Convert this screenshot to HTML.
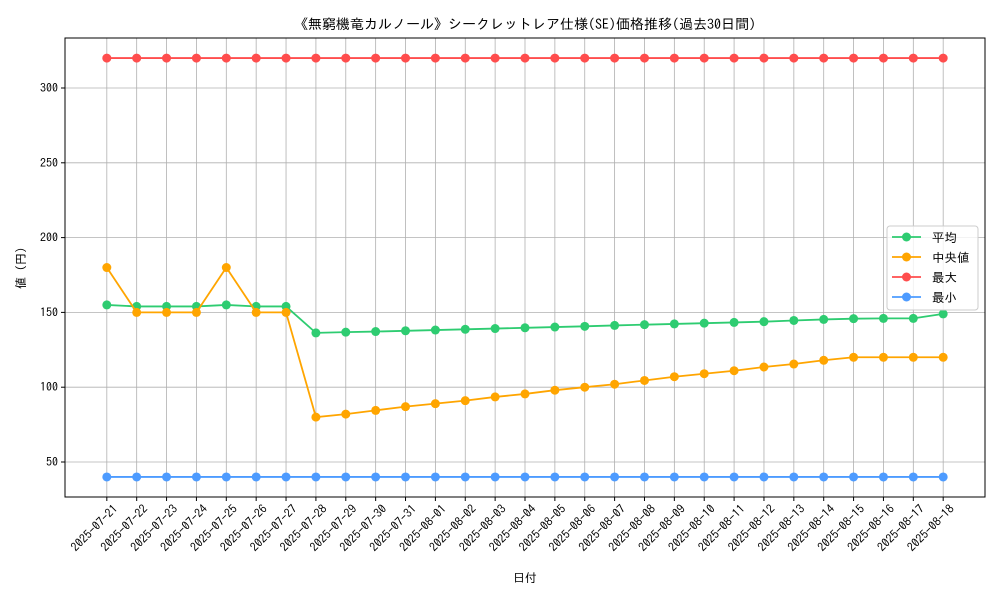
<!DOCTYPE html>
<html><head><meta charset="utf-8"><style>
body{margin:0;background:#fff;}
svg text{font-family:"IPAGothic","Noto Sans CJK JP",monospace;fill:#000;}
</style></head><body>
<svg id="chart" width="1000" height="600" xmlns="http://www.w3.org/2000/svg">
<rect width="1000" height="600" fill="#fff"/>
<text x="525" y="29" font-size="14" text-anchor="middle">《無窮機竜カルノール》シークレットレア仕様(SE)価格推移(過去30日間)</text>
<g id="grid"></g>
<g id="series"></g>
<g id="axes"></g>
<text x="525" y="582" font-size="12" text-anchor="middle">日付</text>
<text transform="translate(25,268) rotate(-90)" font-size="12" text-anchor="middle">値 (円)</text>
<g>
<rect x="887" y="226" width="91" height="84" rx="3" fill="#fff" fill-opacity="0.8" stroke="#ccc"/>
<g id="legend-items"></g>
</g>
</svg>
<script>
const dates=["2025-07-21","2025-07-22","2025-07-23","2025-07-24","2025-07-25","2025-07-26","2025-07-27","2025-07-28","2025-07-29","2025-07-30","2025-07-31","2025-08-01","2025-08-02","2025-08-03","2025-08-04","2025-08-05","2025-08-06","2025-08-07","2025-08-08","2025-08-09","2025-08-10","2025-08-11","2025-08-12","2025-08-13","2025-08-14","2025-08-15","2025-08-16","2025-08-17","2025-08-18"];
const avgValues=[155,154,154,154,155,154,154,136.3,136.8,137.2,137.7,138.2,138.7,139.2,139.7,140.2,140.7,141.3,141.8,142.3,142.8,143.3,143.8,144.6,145.3,145.8,146,146,149];
const medianValues=[180,150,150,150,180,150,150,80,82,84.5,87,89,91,93.5,95.5,98,100,102,104.5,107,109,111,113.5,115.5,118,120,120,120,120];
const maxValues=[320,320,320,320,320,320,320,320,320,320,320,320,320,320,320,320,320,320,320,320,320,320,320,320,320,320,320,320,320];
const minValues=[40,40,40,40,40,40,40,40,40,40,40,40,40,40,40,40,40,40,40,40,40,40,40,40,40,40,40,40,40];
const yTicks=[50,100,150,200,250,300];
const seriesNames=["平均","中央値","最大","最小"];
const seriesColors=["#2ecc71","#ffa500","#ff4d4d","#4d9bff"];
const L=65,R=985,T=38,B=497;
const n=dates.length;
function x(i){return L+(i+1.4)/(n-1+2.8)*(R-L);}
function y(v){return 462-(v-50)*1.496;}
const NS="http://www.w3.org/2000/svg";
function mk(tag,attrs,parent){const e=document.createElementNS(NS,tag);for(const k in attrs)e.setAttribute(k,attrs[k]);parent.appendChild(e);return e;}
const grid=document.getElementById('grid'),axes=document.getElementById('axes'),ser=document.getElementById('series');
dates.forEach((d,i)=>{
 const g=mk('line',{x1:x(i),x2:x(i),y1:T,y2:B,stroke:'#b0b0b0','stroke-width':0.8},grid);
 
 
 const t=mk('line',{x1:x(i),x2:x(i),y1:B,y2:B+4,stroke:'#000'},axes);
 
 
 const lb=mk('text',{transform:`translate(${x(i)+6},${B+7}) rotate(-45)`,'font-size':12,'text-anchor':'end','dominant-baseline':'hanging'},axes);
 lb.textContent=d;
 
 
});
yTicks.forEach(v=>{
 const g=mk('line',{x1:L,x2:R,y1:y(v),y2:y(v),stroke:'#b0b0b0','stroke-width':0.8},grid);
 
 
 const t=mk('line',{x1:L-4,x2:L,y1:y(v),y2:y(v),stroke:'#000'},axes);
 
 
 const lb=mk('text',{x:L-7,y:y(v)+4,'font-size':12,'text-anchor':'end'},axes);
 lb.textContent=v;
 
 
});
const frame=mk('rect',{x:L,y:T,width:R-L,height:B-T,fill:'none',stroke:'#000','stroke-width':1},axes);


const allSeries=[avgValues,medianValues,maxValues,minValues];
allSeries.forEach((vals,s)=>{
 const c=seriesColors[s];
 const p=mk('polyline',{points:vals.map((v,i)=>x(i)+','+y(v)).join(' '),fill:'none',stroke:c,'stroke-width':1.8},ser);
 
 
 vals.forEach((v,i)=>{
  const m=mk('circle',{cx:x(i),cy:y(v),r:4.5,fill:c},ser);
  
  
 });
});
const li=document.getElementById('legend-items');
seriesNames.forEach((nm,s)=>{
 const yy=237+s*20;
 const l=mk('line',{x1:892,x2:921,y1:yy,y2:yy,stroke:seriesColors[s],'stroke-width':1.8},li);
 
 
 const c=mk('circle',{cx:906.5,cy:yy,r:4.5,fill:seriesColors[s]},li);
 
 
 const t=mk('text',{x:932,y:yy+5,'font-size':12.5},li);
 t.textContent=nm;
 
 
});
</script>
</body></html>
